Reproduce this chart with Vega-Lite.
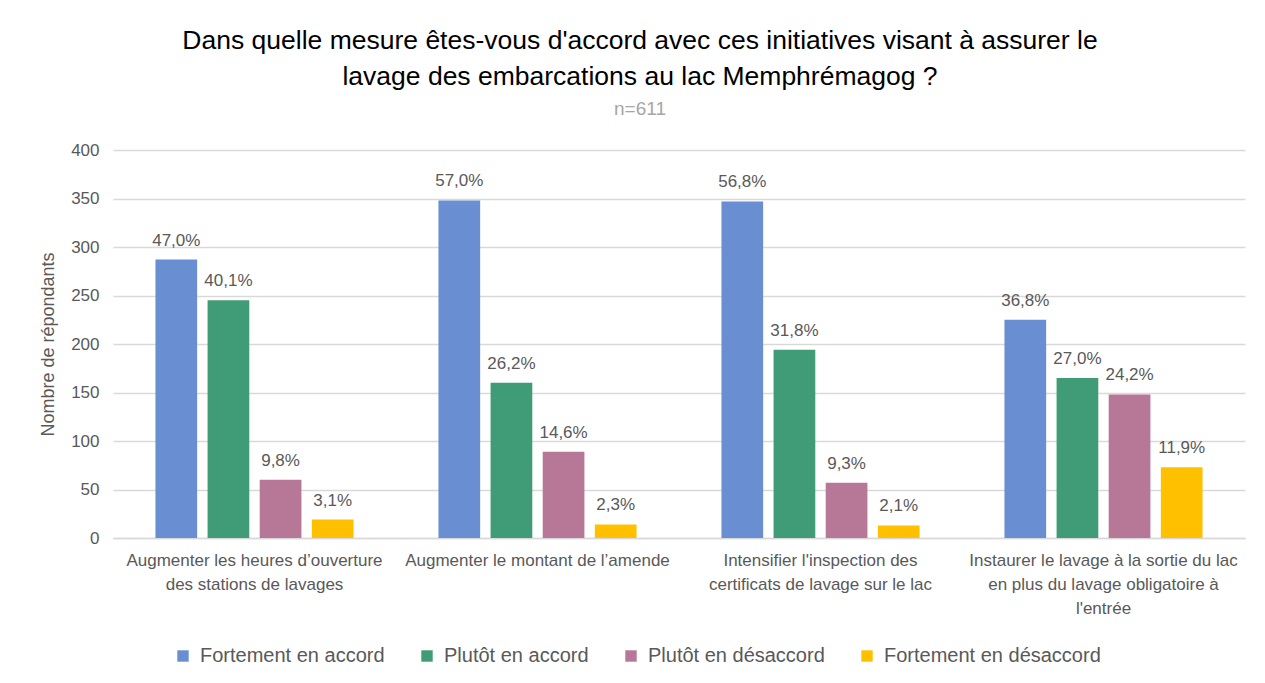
{
  "$schema": "https://vega.github.io/schema/vega-lite/v6.json",
  "width": 1132,
  "height": 388,
  "autosize": {"type": "none"},
  "padding": {"left": 113, "top": 150, "right": 20, "bottom": 145},
  "background": "white",
  "title": {
    "text": ["Dans quelle mesure êtes-vous d'accord avec ces initiatives visant à assurer le", "lavage des embarcations au lac Memphrémagog ?"],
    "subtitle": "n=611",
    "anchor": "middle",
    "dx": -39,
    "offset": 22,
    "font": "Liberation Sans",
    "fontSize": 26.5,
    "fontWeight": "normal",
    "color": "#000000",
    "lineHeight": 36,
    "subtitleFont": "Liberation Sans",
    "subtitleFontSize": 19,
    "subtitleColor": "#A6A6A6",
    "subtitlePadding": 10
  },
  "data": {
    "values": [
      {"initiative": "Augmenter les heures d’ouverture|des stations de lavages", "reponse": "Fortement en accord", "n": 287, "pct": "47,0%"},
      {"initiative": "Augmenter les heures d’ouverture|des stations de lavages", "reponse": "Plutôt en accord", "n": 245, "pct": "40,1%"},
      {"initiative": "Augmenter les heures d’ouverture|des stations de lavages", "reponse": "Plutôt en désaccord", "n": 60, "pct": "9,8%"},
      {"initiative": "Augmenter les heures d’ouverture|des stations de lavages", "reponse": "Fortement en désaccord", "n": 19, "pct": "3,1%"},
      {"initiative": "Augmenter le montant de l’amende", "reponse": "Fortement en accord", "n": 348, "pct": "57,0%"},
      {"initiative": "Augmenter le montant de l’amende", "reponse": "Plutôt en accord", "n": 160, "pct": "26,2%"},
      {"initiative": "Augmenter le montant de l’amende", "reponse": "Plutôt en désaccord", "n": 89, "pct": "14,6%"},
      {"initiative": "Augmenter le montant de l’amende", "reponse": "Fortement en désaccord", "n": 14, "pct": "2,3%"},
      {"initiative": "Intensifier l'inspection des|certificats de lavage sur le lac", "reponse": "Fortement en accord", "n": 347, "pct": "56,8%"},
      {"initiative": "Intensifier l'inspection des|certificats de lavage sur le lac", "reponse": "Plutôt en accord", "n": 194, "pct": "31,8%"},
      {"initiative": "Intensifier l'inspection des|certificats de lavage sur le lac", "reponse": "Plutôt en désaccord", "n": 57, "pct": "9,3%"},
      {"initiative": "Intensifier l'inspection des|certificats de lavage sur le lac", "reponse": "Fortement en désaccord", "n": 13, "pct": "2,1%"},
      {"initiative": "Instaurer le lavage à la sortie du lac|en plus du lavage obligatoire à|l'entrée", "reponse": "Fortement en accord", "n": 225, "pct": "36,8%"},
      {"initiative": "Instaurer le lavage à la sortie du lac|en plus du lavage obligatoire à|l'entrée", "reponse": "Plutôt en accord", "n": 165, "pct": "27,0%"},
      {"initiative": "Instaurer le lavage à la sortie du lac|en plus du lavage obligatoire à|l'entrée", "reponse": "Plutôt en désaccord", "n": 148, "pct": "24,2%"},
      {"initiative": "Instaurer le lavage à la sortie du lac|en plus du lavage obligatoire à|l'entrée", "reponse": "Fortement en désaccord", "n": 73, "pct": "11,9%"}
    ]
  },
  "encoding": {
    "x": {
      "field": "initiative",
      "type": "nominal",
      "sort": null,
      "scale": {"paddingInner": 0.3, "paddingOuter": 0.15},
      "axis": {
        "title": null,
        "labelAngle": 0,
        "labelExpr": "split(datum.label, '|')",
        "labelFont": "Liberation Sans",
        "labelFontSize": 17,
        "labelColor": "#595959",
        "labelLineHeight": 24,
        "labelPadding": 14,
        "labelLimit": 400,
        "ticks": false,
        "domainColor": "#D9D9D9",
        "domainWidth": 1.5
      }
    },
    "xOffset": {
      "field": "reponse",
      "type": "nominal",
      "sort": ["Fortement en accord", "Plutôt en accord", "Plutôt en désaccord", "Fortement en désaccord"],
      "scale": {"paddingInner": 0.2, "paddingOuter": 0}
    },
    "y": {
      "field": "n",
      "type": "quantitative",
      "scale": {"domain": [0, 400]},
      "axis": {
        "title": "Nombre de répondants",
        "titleFont": "Liberation Sans",
        "titleFontSize": 18,
        "titleFontWeight": "normal",
        "titleColor": "#595959",
        "titlePadding": 13,
        "values": [0, 50, 100, 150, 200, 250, 300, 350, 400],
        "labelFont": "Liberation Sans",
        "labelFontSize": 17,
        "labelColor": "#595959",
        "labelPadding": 14,
        "ticks": false,
        "domain": false,
        "gridColor": "#D9D9D9",
        "gridWidth": 1.5
      }
    }
  },
  "layer": [
    {
      "mark": {"type": "bar"},
      "encoding": {
        "color": {
          "field": "reponse",
          "type": "nominal",
          "sort": ["Fortement en accord", "Plutôt en accord", "Plutôt en désaccord", "Fortement en désaccord"],
          "scale": {
            "domain": ["Fortement en accord", "Plutôt en accord", "Plutôt en désaccord", "Fortement en désaccord"],
            "range": ["#698ED2", "#409B77", "#B77796", "#FFC000"]
          },
          "legend": {
            "title": null,
            "orient": "none",
            "legendX": 60,
            "legendY": 496,
            "direction": "horizontal",
            "symbolType": "square",
            "symbolSize": 130,
            "symbolStrokeWidth": 0,
            "labelFont": "Liberation Sans",
            "labelFontSize": 20,
            "labelColor": "#595959",
            "labelLimit": 400,
            "columnPadding": 32,
            "labelOffset": 7
          }
        }
      }
    },
    {
      "mark": {"type": "text", "dy": -19, "font": "Liberation Sans", "fontSize": 17, "color": "#595959"},
      "encoding": {
        "text": {"field": "pct", "type": "nominal"}
      }
    }
  ],
  "config": {
    "view": {"stroke": null}
  }
}
